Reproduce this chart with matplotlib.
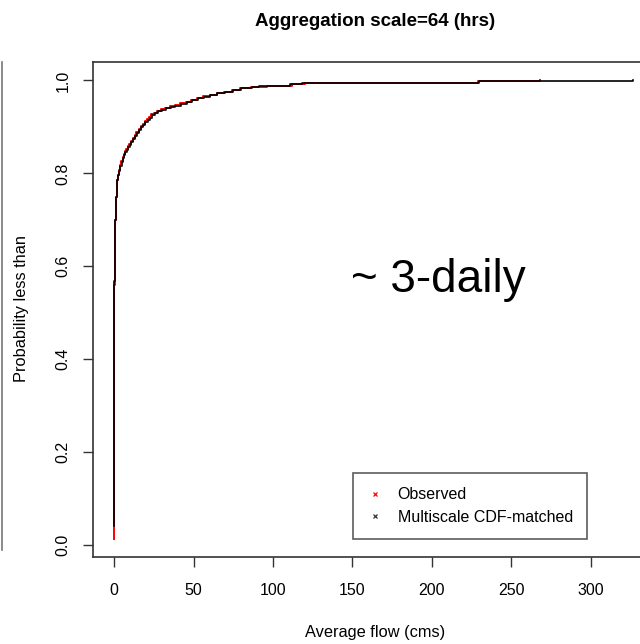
import matplotlib
matplotlib.use('Agg')
import matplotlib.pyplot as plt
from matplotlib.lines import Line2D

plt.rcParams['font.family'] = ['Liberation Sans', 'DejaVu Sans']

# empirical CDF of 64-hr averaged flow, observed vs multiscale CDF-matched
obs_flow = [0.0, 0.0, 0.3, 0.8, 1.5, 2.2, 2.9, 3.6, 4.4, 5.2, 6.0, 6.8, 7.6,
            8.5, 9.5, 10.6, 11.7, 12.8, 14.0, 15.3, 16.6, 18.0, 19.3, 20.6,
            22.0, 23.4, 25.0, 27.0, 29.5, 32.0, 35.0, 38.0, 41.5, 45.0, 48.5,
            52.0, 56.0, 60.0, 64.5, 69.0, 74.0, 79.0, 86.0, 96.0, 112.0,
            120.0, 164.0, 229.0, 268.0]
obs_prob = [0.013, 0.56, 0.70, 0.75, 0.785, 0.797, 0.808, 0.818, 0.827, 0.835,
            0.842, 0.848, 0.853, 0.858, 0.864, 0.870, 0.876, 0.882, 0.888,
            0.895, 0.901, 0.907, 0.912, 0.917, 0.922, 0.927, 0.931, 0.935,
            0.938, 0.941, 0.944, 0.947, 0.951, 0.954, 0.958, 0.963, 0.966,
            0.969, 0.973, 0.976, 0.979, 0.984, 0.987, 0.988, 0.9925, 0.994,
            0.995, 0.998, 1.0]

ms_flow = [0.0, 0.0, 0.2, 0.9, 1.6, 2.3, 3.0, 3.8, 4.6, 5.4, 6.2, 7.0, 7.8,
           8.7, 9.7, 10.8, 11.9, 13.0, 14.2, 15.5, 16.8, 18.2, 19.6, 21.0,
           22.4, 23.8, 25.5, 27.5, 30.0, 32.5, 35.5, 38.5, 42.0, 45.5, 49.0,
           52.5, 56.5, 60.5, 65.0, 70.0, 75.0, 80.0, 86.5, 91.0, 111.0,
           118.3, 151.0, 229.5, 327.0]
ms_prob = [0.04, 0.567, 0.70, 0.75, 0.786, 0.796, 0.806, 0.816, 0.825, 0.833,
           0.840, 0.846, 0.851, 0.856, 0.862, 0.868, 0.874, 0.880, 0.886,
           0.893, 0.899, 0.905, 0.910, 0.915, 0.920, 0.925, 0.930, 0.934,
           0.937, 0.940, 0.943, 0.946, 0.950, 0.953, 0.957, 0.962, 0.965,
           0.968, 0.972, 0.975, 0.979, 0.983, 0.987, 0.989, 0.9925, 0.995,
           0.995, 0.9985, 1.0]

fig = plt.figure(figsize=(6.4, 6.44), dpi=100)
ax = fig.add_axes([93/640, 87/644, 561/640, 495/644])

ax.plot(obs_flow, obs_prob, color='red', lw=1.4, drawstyle='steps-post', zorder=2)
ax.plot(ms_flow, ms_prob, color='black', lw=1.2, drawstyle='steps-post', zorder=3)

ax.set_xlim(-13.4, 340)
ax.set_ylim(-0.0265, 1.0398)
ax.set_xticks([0, 50, 100, 150, 200, 250, 300])
ax.set_yticks([0.0, 0.2, 0.4, 0.6, 0.8, 1.0])
ax.set_yticklabels(['0.0', '0.2', '0.4', '0.6', '0.8', '1.0'], rotation=90, va='center')
ax.tick_params(direction='out', length=7, width=1, labelsize=11.5, color='#333333')
ax.tick_params(axis='x', pad=12)
ax.tick_params(axis='y', pad=9)
for s in ax.spines.values():
    s.set_color('#333333')
    s.set_linewidth(1.2)

fig.text(375/640, 1 - 22/644, 'Aggregation scale=64 (hrs)', ha='center', va='center',
         fontsize=13.5, fontweight='bold')
fig.text(375/640, 1 - 632/644, 'Average flow (cms)', ha='center', va='center', fontsize=11.8)
fig.text(22/640, 1 - 309/644, 'Probability less than', ha='center', va='center',
         rotation=90, fontsize=11.8)
fig.text(438/640, 1 - 280/644, '~ 3-daily', ha='center', va='center', fontsize=33)

# thin rule along the left edge
fig.add_artist(Line2D([1.5/640, 1.5/640], [1 - 62/644, 1 - 550/644],
                      transform=fig.transFigure, color='#777777', lw=1.2))

handles = [Line2D([], [], ls='none', marker='x', color='red', ms=3, mew=0.9),
           Line2D([], [], ls='none', marker='x', color='#333333', ms=3, mew=0.9)]
leg = ax.legend(handles, ['Observed', 'Multiscale CDF-matched'],
                loc='lower left', bbox_to_anchor=(353/640, 105/644),
                bbox_transform=fig.transFigure, borderaxespad=0, fancybox=False,
                frameon=True, fontsize=11.5, handlelength=1.0, handletextpad=0.9,
                borderpad=0.9, labelspacing=0.45)
leg.get_frame().set_edgecolor('#333333')
leg.get_frame().set_linewidth(1.2)

fig.savefig('out.png', dpi=100)
